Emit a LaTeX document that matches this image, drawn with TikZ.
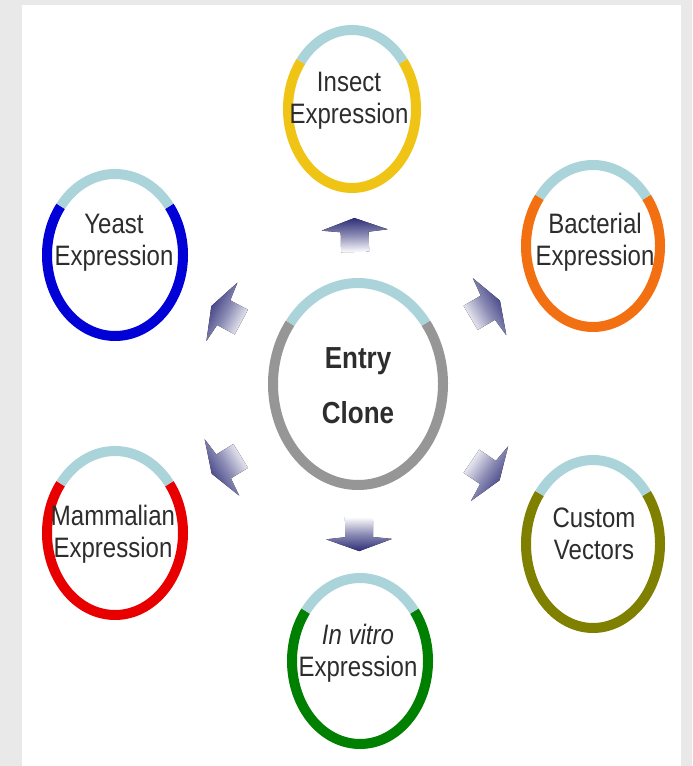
\documentclass[tikz,border=0pt]{standalone}
\usepackage{fontspec}
\setmainfont{Liberation Sans}
\usepackage{graphicx}
\usetikzlibrary{calc}
\definecolor{bggray}{RGB}{233,233,233}
\definecolor{capblue}{RGB}{170,212,218}
\definecolor{cinsect}{RGB}{240,196,20}
\definecolor{cyeast}{RGB}{0,0,215}
\definecolor{cbact}{RGB}{242,112,18}
\definecolor{ccustom}{RGB}{128,128,0}
\definecolor{cvitro}{RGB}{0,128,0}
\definecolor{cmamm}{RGB}{232,0,0}
\definecolor{centry}{RGB}{150,150,150}
\definecolor{arrowc}{RGB}{45,45,120}
\definecolor{txtc}{RGB}{45,45,45}
\newcommand{\twolines}[2]{\scalebox{1}[1.17]{\begin{tabular}{@{}c@{}}#1\\#2\end{tabular}}}
\newcommand{\ringdraw}[4]{%
  \draw[ringline, #2] ($(#1)+(37:#3 and #4)$) arc[start angle=37,end angle=-217,x radius=#3,y radius=#4];
  \draw[ringline, capblue] ($(#1)+(37:#3 and #4)$) arc[start angle=37,end angle=143,x radius=#3,y radius=#4];}
\begin{document}
\begin{tikzpicture}[x=0.75pt,y=0.75pt,
  ringline/.style={line width=7.5pt},
  lbl/.style={text=txtc, font=\fontsize{18}{21}\selectfont, inner sep=0pt}]
\fill[bggray] (0,0) rectangle (692,766);
\fill[white] (22,0) rectangle (681,761);
\useasboundingbox (0,0) rectangle (692,766);
% ring centres
\coordinate (c-entry) at (358,382);
\coordinate (c-insect) at (352,657);
\coordinate (c-yeast) at (115,511);
\coordinate (c-bact) at (593,520);
\coordinate (c-custom) at (593,222);
\coordinate (c-vitro) at (360,105);
\coordinate (c-mamm) at (115,233);
% rings
\ringdraw{c-entry}{centry}{85}{101}
\ringdraw{c-insect}{cinsect}{64}{79}
\ringdraw{c-yeast}{cyeast}{68}{81}
\ringdraw{c-bact}{cbact}{67}{81}
\ringdraw{c-custom}{ccustom}{67}{84}
\ringdraw{c-vitro}{cvitro}{68}{83}
\ringdraw{c-mamm}{cmamm}{68}{82}
% labels
\node[lbl] (t-insect) at (349,665) {\twolines{Insect}{Expression}};
\node[lbl] (t-yeast) at (114,523) {\twolines{Yeast}{Expression}};
\node[lbl] (t-bact) at (595,523) {\twolines{Bacterial}{Expression}};
\node[lbl] (t-custom) at (594,229) {\twolines{Custom}{Vectors}};
\node[lbl] (t-vitro) at (358,112) {\twolines{\textit{In vitro}}{Expression}};
\node[lbl] (t-mamm) at (113,231) {\twolines{Mammalian}{Expression}};
\node[lbl, font=\fontsize{19.5}{35}\selectfont\bfseries] (t-entry) at (358,381) {\twolines{Entry}{Clone}};
% arrows
\foreach \t/\a in {insect/91.2, yeast/152, bact/30.4, custom/-34.2, vitro/-89.6, mamm/211.5}{
  \pgfmathsetmacro{\sa}{\a-90}
  \begin{scope}[shift={($(c-entry)!0.56!(c-\t)$)}, rotate=\a]
    \fill[top color=arrowc, bottom color=white, middle color=arrowc!55, shading angle=\sa]
      (12,0) -- (0,33) -- (-2,14) -- (-22,14) -- (-22,-14) -- (-2,-14) -- (0,-33) -- cycle;
  \end{scope}}
\end{tikzpicture}
\end{document}
